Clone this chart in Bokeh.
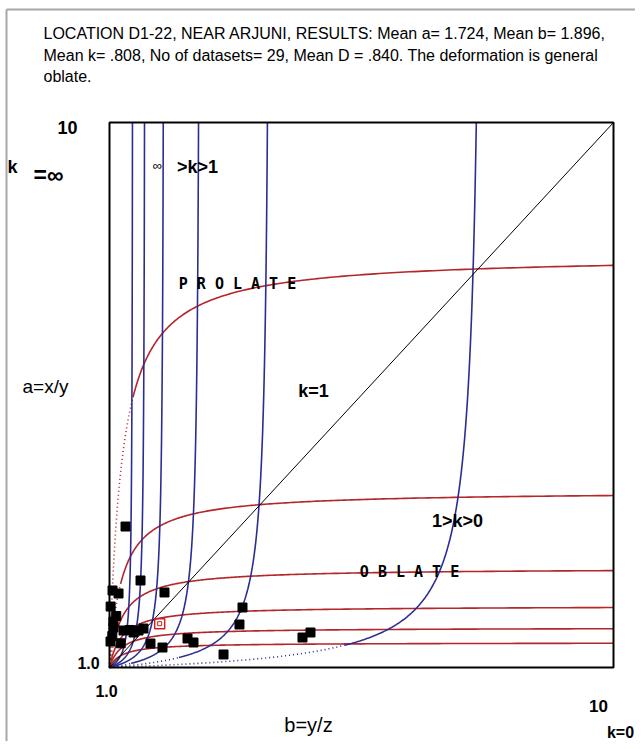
import numpy as np
from bokeh.plotting import figure
from bokeh.models import Range1d, Label
from bokeh.embed import file_html
from bokeh.resources import INLINE

# ---- data ----
b_vals = [1.286, 1.554, 1.982, 1.054, 1.161, 1.020, 3.375, 3.321, 2.393, 2.500,
          1.732, 1.946, 3.036, 1.071, 1.071, 1.250, 1.018, 1.429, 1.518, 1.607,
          4.446, 4.589, 1.050, 1.120, 1.360, 1.200]
a_vals = [3.328, 2.437, 2.239, 2.272, 2.222, 2.007, 1.991, 1.710, 1.479, 1.413,
          1.396, 1.330, 1.215, 1.760, 1.661, 1.611, 1.429, 1.578, 1.611, 1.644,
          1.495, 1.578, 1.520, 1.850, 1.620, 1.400]
mean_b = 1.896
mean_a = 1.724
red_levels = [7.64, 3.84, 2.60, 1.99, 1.64, 1.40]    # a reached at b = 10
blue_levels = [7.55, 3.82, 2.59, 1.96, 1.625, 1.41]  # b reached at a = 10
curve_h = 0.22

RED = "#b3262a"
BLUE = "#2b2d92"

W, H = 635, 741


def bx(px):
    return 1 + (px - 109) / 56.0


def ay(py):
    return 1 + (667 - py) / 60.556


p = figure(width=W, height=H, x_range=Range1d(bx(0), bx(W)), y_range=Range1d(ay(H), ay(0)),
           x_axis_location=None, y_axis_location=None, toolbar_location=None,
           output_backend="svg", min_border=0)
p.grid.visible = False
p.outline_line_color = None
p.background_fill_color = "white"
p.border_fill_color = "white"

# outer grey frame
p.line([bx(6), bx(6)], [ay(H), ay(9)], line_color="#a8a8a8", line_width=2)
p.line([bx(6), bx(W)], [ay(9), ay(9)], line_color="#a8a8a8", line_width=2)

u = np.concatenate([[0.0], np.geomspace(1e-5, 9.0, 900)])
px_ratio = (545 / 9) / (504 / 9)


def split_curve(M, ratio):
    us = np.sqrt(M * curve_h * ratio / 4.0) - curve_h
    g = M * u / (u + curve_h)
    return us, g


for R in red_levels:
    M = (R - 1) * (9 + curve_h) / 9
    us, g = split_curve(M, px_ratio)
    solid = u >= max(us, 0)
    p.line(1 + u[solid], 1 + g[solid], line_color=RED, line_width=1.6)
    if us > 0:
        dot = u <= us
        p.line(1 + u[dot], 1 + g[dot], line_color=RED, line_width=1.6, line_dash="1 3")

for B in blue_levels:
    M = (B - 1) * (9 + curve_h) / 9
    us, g = split_curve(M, 1 / px_ratio)
    solid = u >= max(us, 0)
    p.line(1 + g[solid], 1 + u[solid], line_color=BLUE, line_width=1.6)
    if us > 0:
        dot = u <= us
        p.line(1 + g[dot], 1 + u[dot], line_color=BLUE, line_width=1.6, line_dash="1 3")

p.line([1, 10], [1, 10], line_color="black", line_width=1)

# plot box
p.line([1, 10, 10, 1, 1], [1, 1, 10, 10, 1], line_color="black", line_width=2)

p.scatter(b_vals, a_vals, marker="square", size=9, fill_color="black", line_color="black")
p.scatter([mean_b], [mean_a], marker="square", size=10, fill_color=None, line_color="#d02020", line_width=1.5)
p.scatter([mean_b], [mean_a], marker="square", size=4, fill_color=None, line_color="#d02020", line_width=1)


def lab(text, px, py, size, bold=False, align="center", font="Liberation Sans", color="black"):
    p.add_layout(Label(x=bx(px), y=ay(py), text=text, text_font=font,
                       text_font_size=size, text_font_style="bold" if bold else "normal",
                       text_align=align, text_baseline="middle", text_color=color))


title1 = "LOCATION D1-22, NEAR ARJUNI, RESULTS: Mean a= 1.724, Mean b= 1.896,"
title2 = "Mean k= .808, No of datasets= 29, Mean D = .840. The deformation is general"
title3 = "oblate."
lab(title1, 43, 33, "16px", align="left")
lab(title2, 43, 55, "16px", align="left")
lab(title3, 43, 76, "16px", align="left")

lab("10", 67, 127, "18px", bold=True)
lab("k", 12, 166, "18px", bold=True)
lab("=\u221e", 48, 174, "23px", bold=True)
lab("\u221e", 157, 165, "13px")
lab(">k>1", 197, 166, "18px", bold=True)
lab("P R O L A T E", 237, 283, "15px", bold=True, font="DejaVu Sans Mono")
lab("k=1", 313, 390, "18px", bold=True)
lab("a=x/y", 45, 386, "19px")
lab("1>k>0", 457, 520, "18px", bold=True)
lab("O B L A T E", 409, 571, "15px", bold=True, font="DejaVu Sans Mono")
lab("1.0", 88, 662, "16px", bold=True)
lab("1.0", 106, 690, "16px", bold=True)
lab("10", 598, 705, "17px", bold=True)
lab("b=y/z", 308, 724, "20px")
lab("k=0", 620, 732, "16px", bold=True)

open("out.html", "w").write(file_html(p, INLINE))
